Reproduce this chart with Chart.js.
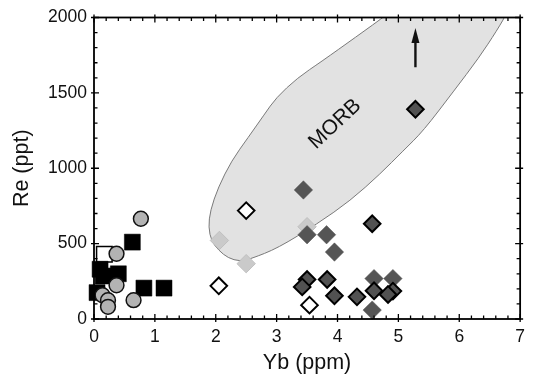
<!DOCTYPE html>
<html><head><meta charset="utf-8">
<script src="https://cdn.jsdelivr.net/npm/chart.js@4/dist/chart.umd.min.js"></script>
<style>html,body{margin:0;padding:0;background:#fff}#wrap{width:533px;height:378px}</style>
</head><body><div id="wrap"><canvas id="c" width="533" height="378"></canvas></div>
<script>
// ---- tick labels ----
const xTicks = [0, 1, 2, 3, 4, 5, 6, 7];
const yTicks = [0, 500, 1000, 1500, 2000];
const xMinorStep = 0.2;
const yMinorStep = 100;

// ---- series (Yb ppm, Re ppt) ----
const blackSqX = [0.63, 0.10, 0.15, 0.40, 0.05, 0.82, 1.15];
const blackSqY = [510, 330, 285, 300, 175, 205, 205];
const openSqX = [0.17];
const openSqY = [430];
const circX = [0.77, 0.37, 0.37, 0.14, 0.23, 0.23, 0.65];
const circY = [665, 433, 224, 158, 125, 81, 125];
const darkX = [3.44, 3.50, 3.82, 3.95, 4.60, 4.91, 4.57];
const darkY = [856, 559, 559, 444, 268, 268, 59];
const darkEdgeX = [3.50, 3.42, 3.83, 3.95, 4.32, 4.60, 4.91, 4.83, 4.57, 5.28];
const darkEdgeY = [262, 213, 262, 154, 147, 187, 185, 163, 632, 1391];
const lightX = [2.06, 2.50, 3.50];
const lightY = [521, 367, 612];
const openDiaX = [2.50, 2.05, 3.54];
const openDiaY = [719, 220, 92];

// ---- MORB field outline ----
const morbX = [6.95, 6.80, 6.62, 6.32, 5.91, 5.41, 5.08, 4.70, 4.21, 3.67, 3.02, 2.58, 2.40, 2.20, 2.05, 1.93, 1.88, 1.91, 2.04, 2.26, 2.53, 2.80, 2.99, 3.34, 3.74, 4.30, 4.85, 5.20];
const morbY = [2200, 2040, 1915, 1731, 1512, 1248, 1116, 962, 785, 632, 470, 400, 382, 405, 455, 515, 609, 719, 873, 1050, 1203, 1358, 1467, 1599, 1709, 1870, 2030, 2150];
const morbLabel = ['MORB'];
const morbLabelX = [3.96];
const morbLabelY = [1293];
const arrowX = [5.28];
const arrowY = [1670, 1930];

const pts = (xs, ys) => xs.map((x, i) => ({x, y: ys[i]}));
const FONT = "'Liberation Sans', Arial, Helvetica, sans-serif";

const overlay = {
  id: 'overlay',
  beforeDatasetsDraw(chart) {
    const {ctx, chartArea: a, scales: {x, y}} = chart;
    ctx.save();
    ctx.beginPath(); ctx.rect(a.left, a.top, a.right - a.left, a.bottom - a.top); ctx.clip();
    const P = morbX.map((v, i) => [x.getPixelForValue(v), y.getPixelForValue(morbY[i])]);
    ctx.beginPath();
    ctx.moveTo(P[0][0], P[0][1]);
    for (let i = 1; i < P.length - 1; i++) {
      const mx = (P[i][0] + P[i + 1][0]) / 2, my = (P[i][1] + P[i + 1][1]) / 2;
      ctx.quadraticCurveTo(P[i][0], P[i][1], mx, my);
    }
    ctx.lineTo(P[P.length - 1][0], P[P.length - 1][1]);
    ctx.fillStyle = '#e2e2e2';
    ctx.fill();
    ctx.strokeStyle = '#7a7a7a';
    ctx.lineWidth = 1;
    ctx.stroke();
    // label
    ctx.translate(x.getPixelForValue(morbLabelX[0]), y.getPixelForValue(morbLabelY[0]));
    ctx.rotate(-43 * Math.PI / 180);
    ctx.fillStyle = '#111';
    ctx.font = '21px ' + FONT;
    ctx.textAlign = 'center'; ctx.textBaseline = 'middle';
    ctx.fillText(morbLabel[0], 0, 0);
    ctx.restore();
  },
  afterDatasetsDraw(chart) {
    const {ctx, chartArea: a, scales: {x, y}} = chart;
    ctx.save();
    // arrow
    const ax = x.getPixelForValue(arrowX[0]);
    const y0 = y.getPixelForValue(arrowY[0]), y1 = y.getPixelForValue(arrowY[1]);
    ctx.strokeStyle = '#111'; ctx.fillStyle = '#111'; ctx.lineWidth = 2.4;
    ctx.beginPath(); ctx.moveTo(ax, y0); ctx.lineTo(ax, y1 + 10); ctx.stroke();
    ctx.beginPath(); ctx.moveTo(ax, y1); ctx.lineTo(ax - 4, y1 + 15); ctx.lineTo(ax + 4, y1 + 15); ctx.closePath(); ctx.fill();
    // frame
    ctx.strokeStyle = '#000'; ctx.lineWidth = 1.8;
    ctx.strokeRect(a.left, a.top, a.right - a.left, a.bottom - a.top);
    ctx.lineWidth = 1.3;
    ctx.beginPath();
    const xMin = xTicks[0], xMax = xTicks[xTicks.length - 1];
    for (let v = xMin; v <= xMax + 1e-9; v += xMinorStep) {
      const major = xTicks.some(t => Math.abs(t - v) < 1e-6);
      const px = x.getPixelForValue(v);
      const inL = major ? 5 : 3.5, outL = major ? 3 : 0;
      ctx.moveTo(px, a.bottom + outL); ctx.lineTo(px, a.bottom - inL);
      ctx.moveTo(px, a.top - outL); ctx.lineTo(px, a.top + inL);
    }
    const yMin = yTicks[0], yMax = yTicks[yTicks.length - 1];
    for (let v = yMin; v <= yMax + 1e-9; v += yMinorStep) {
      const major = yTicks.some(t => Math.abs(t - v) < 1e-6);
      const py = y.getPixelForValue(v);
      const inL = major ? 5 : 3.5, outL = major ? 3 : 0;
      ctx.moveTo(a.left - outL, py); ctx.lineTo(a.left + inL, py);
      ctx.moveTo(a.right + outL, py); ctx.lineTo(a.right - inL, py);
    }
    ctx.stroke();
    ctx.restore();
  }
};

const tickFont = {family: FONT, size: 17.5};
const titleFont = {family: FONT, size: 21.5};

new Chart(document.getElementById('c'), {
  type: 'scatter',
  data: {
    datasets: [
      {label: 'circles', data: pts(circX, circY), pointStyle: 'circle', pointRadius: 7.4, backgroundColor: '#b3b3b3', borderColor: '#111', borderWidth: 1.5, order: 0, clip: false},
      {label: 'black squares', data: pts(blackSqX, blackSqY), pointStyle: 'rect', pointRadius: 11.3, backgroundColor: '#000', borderColor: '#000', borderWidth: 0.5, order: 1, clip: false},
      {label: 'open squares', data: pts(openSqX, openSqY), pointStyle: 'rect', pointRadius: 11, backgroundColor: '#fff', borderColor: '#000', borderWidth: 1.5, order: 2, clip: false},
      {label: 'dark diamonds edged', data: pts(darkEdgeX, darkEdgeY), pointStyle: 'rectRot', pointRadius: 8.3, backgroundColor: '#525252', borderColor: '#000', borderWidth: 2, order: 3, clip: false},
      {label: 'dark diamonds', data: pts(darkX, darkY), pointStyle: 'rectRot', pointRadius: 9.2, backgroundColor: '#555', borderColor: '#555', borderWidth: 0.5, order: 4, clip: false},
      {label: 'light diamonds', data: pts(lightX, lightY), pointStyle: 'rectRot', pointRadius: 9.2, backgroundColor: '#cacaca', borderColor: '#c0c0c0', borderWidth: 1, order: 5, clip: false},
      {label: 'open diamonds', data: pts(openDiaX, openDiaY), pointStyle: 'rectRot', pointRadius: 8.3, backgroundColor: '#fff', borderColor: '#000', borderWidth: 2, order: 6, clip: false}
    ]
  },
  options: {
    responsive: false,
    animation: false,
    events: [],
    layout: {padding: {left: 0, right: 8, top: 16, bottom: 0}},
    plugins: {legend: {display: false}, tooltip: {enabled: false}},
    elements: {point: {hoverRadius: 0}},
    scales: {
      x: {
        type: 'linear', min: xTicks[0], max: xTicks[xTicks.length - 1],
        afterBuildTicks: s => { s.ticks = xTicks.map(v => ({value: v})); },
        grid: {display: false, drawTicks: false}, border: {display: false},
        ticks: {font: tickFont, color: '#111', padding: 8, maxRotation: 0, autoSkip: false, callback: v => String(v)},
        title: {display: true, text: 'Yb (ppm)', font: titleFont, color: '#111', padding: {top: 2, bottom: 2}},
        afterFit: s => { s.height = 59; }
      },
      y: {
        type: 'linear', min: yTicks[0], max: yTicks[yTicks.length - 1],
        afterBuildTicks: s => { s.ticks = yTicks.map(v => ({value: v})); },
        grid: {display: false, drawTicks: false}, border: {display: false},
        ticks: {font: tickFont, color: '#111', padding: 7, autoSkip: false, callback: v => String(v)},
        title: {display: true, text: 'Re (ppt)', font: titleFont, color: '#111', padding: {top: 9, bottom: 2}},
        afterFit: s => { s.width = 94; }
      }
    }
  },
  plugins: [overlay]
});
</script>
</body></html>
